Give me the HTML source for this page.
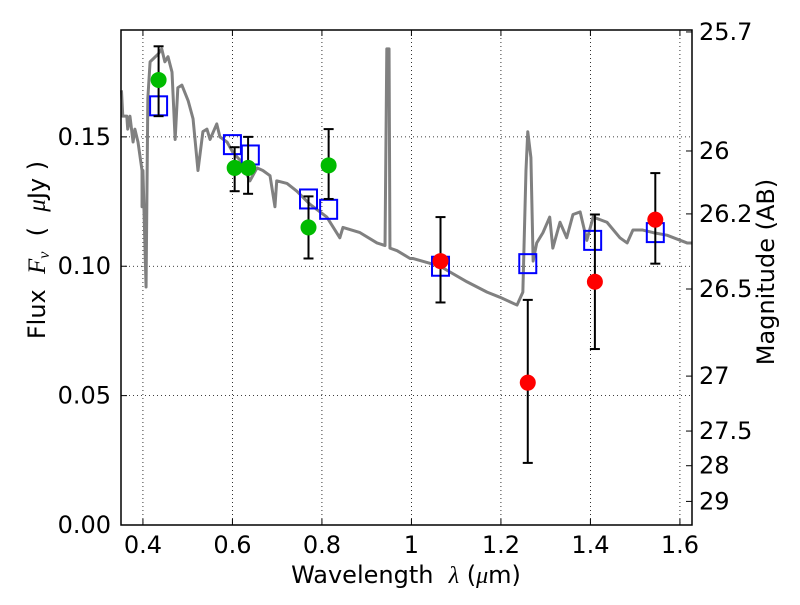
<!DOCTYPE html>
<html><head><meta charset="utf-8"><style>
body{margin:0;background:#fff}
svg text{font-family:"DejaVu Sans","Liberation Sans",sans-serif;fill:#000}
</style></head><body>
<svg id="chart" width="800" height="600" viewBox="0 0 800 600" xmlns="http://www.w3.org/2000/svg">
<rect width="800" height="600" fill="#fff"/>
<g id="grid"></g>
<g id="spec"></g>
<g id="marks"></g>
<g id="axes"></g>
<text x="406" y="583" font-size="24" text-anchor="middle">Wavelength&#160;&#160;<tspan font-family="Liberation Serif" font-style="italic">λ</tspan> (<tspan font-family="Liberation Serif" font-style="italic">μ</tspan>m)</text>
<text transform="translate(45,250) rotate(-90)" font-size="24" text-anchor="middle">Flux&#160;&#160;<tspan font-family="Liberation Serif" font-style="italic" font-size="25">F<tspan font-size="16" dy="4">ν</tspan></tspan><tspan dy="-4">&#160;&#160;(&#160;&#160;</tspan><tspan font-family="Liberation Serif" font-style="italic" font-size="25">μ</tspan>Jy&#160;)</text>
<text transform="translate(774,272) rotate(-90)" font-size="24" text-anchor="middle">Magnitude (AB)</text>
</svg>
<script>
const specWl=[0.352,0.355,0.364,0.366,0.371,0.378,0.382,0.389,0.398,0.398,0.400,0.407,0.411,0.416,0.422,0.434,0.442,0.449,0.456,0.465,0.472,0.478,0.487,0.501,0.512,0.523,0.534,0.543,0.550,0.565,0.572,0.588,0.601,0.617,0.639,0.655,0.668,0.684,0.695,0.699,0.722,0.744,0.773,0.811,0.840,0.847,0.885,0.923,0.941,0.945,0.950,0.952,0.968,0.997,1.003,1.064,1.124,1.169,1.198,1.236,1.249,1.256,1.260,1.267,1.272,1.280,1.294,1.309,1.316,1.332,1.347,1.361,1.377,1.392,1.406,1.437,1.466,1.482,1.495,1.517,1.540,1.571,1.616,1.627];
const specFlux=[0.168,0.158,0.158,0.153,0.158,0.148,0.153,0.148,0.137,0.123,0.137,0.092,0.165,0.179,0.180,0.182,0.184,0.179,0.181,0.175,0.149,0.169,0.170,0.164,0.157,0.137,0.152,0.153,0.149,0.155,0.150,0.148,0.144,0.141,0.133,0.138,0.137,0.135,0.123,0.133,0.132,0.129,0.124,0.119,0.111,0.115,0.113,0.109,0.108,0.184,0.184,0.107,0.106,0.103,0.103,0.100,0.094,0.090,0.088,0.085,0.090,0.137,0.152,0.142,0.102,0.109,0.113,0.119,0.107,0.117,0.111,0.120,0.121,0.110,0.119,0.117,0.111,0.109,0.114,0.114,0.113,0.112,0.109,0.109];
const greenWl=[0.435,0.605,0.635,0.770,0.815];
const greenFlux=[0.172,0.138,0.138,0.115,0.139];
const greenLo=[0.158,0.129,0.128,0.103,0.126];
const greenHi=[0.185,0.146,0.150,0.127,0.153];
const redWl=[1.065,1.260,1.410,1.545];
const redFlux=[0.102,0.055,0.094,0.118];
const redLo=[0.086,0.024,0.068,0.101];
const redHi=[0.119,0.087,0.120,0.136];
const modelWl=[0.435,0.600,0.640,0.770,0.815,1.065,1.260,1.405,1.545];
const modelFlux=[0.162,0.147,0.143,0.126,0.122,0.100,0.101,0.110,0.113];
const xTicks=[0.4,0.6,0.8,1.0,1.2,1.4,1.6];
const xTickLabels=["0.4","0.6","0.8","1","1.2","1.4","1.6"];
const yTicks=[0,0.05,0.10,0.15];
const yTickLabels=["0.00","0.05","0.10","0.15"];
const magTicks=[25.7,26,26.2,26.5,27,27.5,28,29];
const magTickLabels=["25.7","26","26.2","26.5","27","27.5","28","29"];

const L=121,R=692,T=30,B=525,XMIN=0.351,XMAX=1.627,YMIN=0,YMAX=0.1913;
const sx=v=>L+(v-XMIN)/(XMAX-XMIN)*(R-L);
const sy=v=>B-(v-YMIN)/(YMAX-YMIN)*(B-T);
const magToFlux=m=>Math.pow(10,(23.9-m)/2.5);
const NS="http://www.w3.org/2000/svg";
function mk(parent,tag,attrs){const e=document.createElementNS(NS,tag);for(const k in attrs)e.setAttribute(k,attrs[k]);parent.appendChild(e);return e;}
const grid=document.getElementById('grid'),spec=document.getElementById('spec'),marks=document.getElementById('marks'),axes=document.getElementById('axes');

xTicks.forEach((t,i)=>{const x=sx(t);
 const g=mk(grid,'line',{x1:x,x2:x,y1:T,y2:B,stroke:'#000','stroke-width':0.8,'stroke-dasharray':'1,3'});
 
 mk(axes,'line',{x1:x,x2:x,y1:B,y2:B-6,stroke:'#000'});mk(axes,'line',{x1:x,x2:x,y1:T,y2:T+6,stroke:'#000'});
 const tx=mk(axes,'text',{x:x,y:B+28,'font-size':24,'text-anchor':'middle'});tx.textContent=xTickLabels[i];
 });
yTicks.forEach((t,i)=>{const y=sy(t);
 const g=mk(grid,'line',{x1:L,x2:R,y1:y,y2:y,stroke:'#000','stroke-width':0.8,'stroke-dasharray':'1,3'});
 
 mk(axes,'line',{x1:L,x2:L+6,y1:y,y2:y,stroke:'#000'});
 const tx=mk(axes,'text',{x:L-10,y:y+8,'font-size':24,'text-anchor':'end'});tx.textContent=yTickLabels[i];
 });
magTicks.forEach((m,i)=>{const y=sy(magToFlux(m));
 mk(axes,'line',{x1:R,x2:R-6,y1:y,y2:y,stroke:'#000'});
 const tx=mk(axes,'text',{x:R+7,y:y+8,'font-size':24});tx.textContent=magTickLabels[i];
 });
const fr=mk(axes,'rect',{x:L,y:T,width:R-L,height:B-T,fill:'none',stroke:'#000','stroke-width':1.5});


const pl=mk(spec,'polyline',{points:specWl.map((w,i)=>sx(w)+','+sy(specFlux[i])).join(' '),fill:'none',stroke:'#808080','stroke-width':3,'stroke-linejoin':'round'});


function err(w,lo,hi){const x=sx(w);
 const e=mk(marks,'g',{stroke:'#000','stroke-width':2});
 
 mk(e,'line',{x1:x,x2:x,y1:sy(lo),y2:sy(hi)});
 mk(e,'line',{x1:x-5,x2:x+5,y1:sy(lo),y2:sy(lo)});mk(e,'line',{x1:x-5,x2:x+5,y1:sy(hi),y2:sy(hi)});}
modelWl.forEach((w,i)=>{const s=mk(marks,'rect',{x:sx(w)-8.5,y:sy(modelFlux[i])-9.5,width:17,height:19,fill:'none',stroke:'#0000ff','stroke-width':2});
 });
greenWl.forEach((w,i)=>{err(w,greenLo[i],greenHi[i]);
 const c=mk(marks,'circle',{cx:sx(w),cy:sy(greenFlux[i]),r:8,fill:'#00bb00'});
 });
redWl.forEach((w,i)=>{err(w,redLo[i],redHi[i]);
 const c=mk(marks,'circle',{cx:sx(w),cy:sy(redFlux[i]),r:8,fill:'#ff0000'});
 });
</script>
</body></html>
